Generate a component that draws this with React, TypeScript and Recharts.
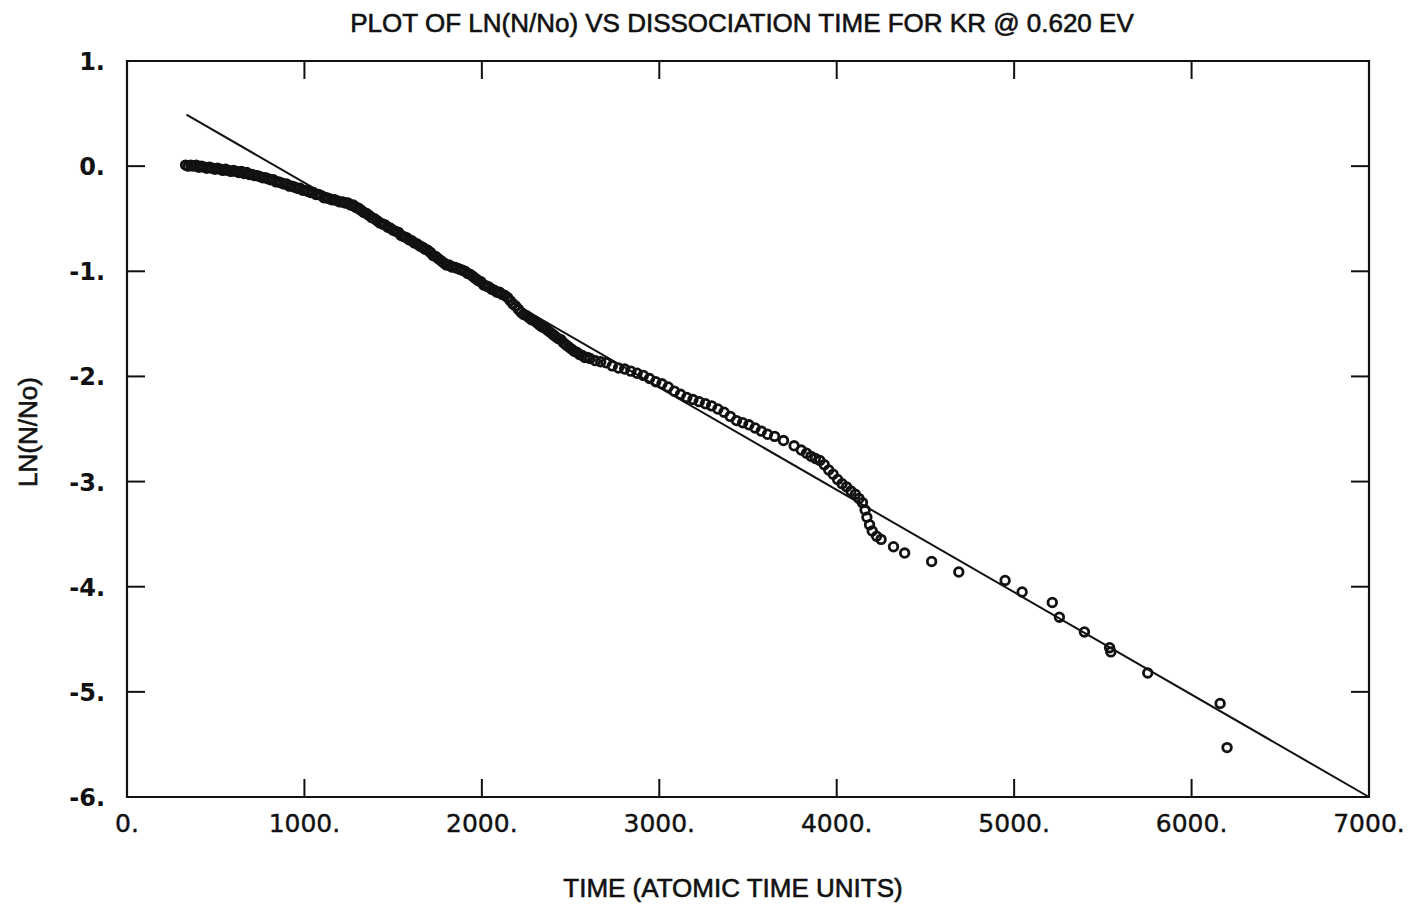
import React from 'react';
import { ScatterChart, Scatter, XAxis, YAxis, ReferenceLine, ReferenceArea } from 'recharts';

// Dissociation time (atomic time units) of each recorded event
const TIMES = [
  330, 345, 360, 375, 390, 405, 420, 435, 450, 465,
  480, 495, 510, 525, 540, 555, 570, 585, 600, 615,
  630, 645, 660, 675, 690, 705, 720, 735, 750, 765,
  780, 795, 810, 825, 840, 855, 870, 885, 900, 915,
  930, 945, 960, 975, 990, 1005, 1020, 1035, 1050, 1065,
  1080, 1095, 1110, 1125, 1140, 1155, 1170, 1185, 1200, 1215,
  1230, 1245, 1260, 1275, 1290, 1305, 1320, 1335, 1350, 1365,
  1380, 1395, 1410, 1425, 1440, 1455, 1470, 1485, 1500, 1515,
  1530, 1545, 1560, 1575, 1590, 1605, 1620, 1635, 1650, 1665,
  1680, 1695, 1710, 1725, 1740, 1755, 1770, 1785, 1800, 1815,
  1830, 1845, 1860, 1875, 1890, 1905, 1920, 1935, 1950, 1965,
  1980, 1995, 2010, 2025, 2040, 2055, 2070, 2085, 2100, 2115,
  2130, 2145, 2160, 2175, 2190, 2205, 2220, 2235, 2250, 2265,
  2280, 2295, 2310, 2325, 2340, 2355, 2370, 2385, 2400, 2415,
  2430, 2445, 2460, 2475, 2490, 2505, 2520, 2535, 2550, 2565,
  2580, 2595, 2610, 2640, 2670, 2700, 2735, 2770, 2805, 2840,
  2875, 2910, 2945, 2980, 3015, 3050, 3085, 3120, 3155, 3190,
  3225, 3260, 3295, 3330, 3365, 3400, 3435, 3470, 3505, 3540,
  3575, 3610, 3650, 3700, 3760, 3800, 3830, 3855, 3880, 3905,
  3930, 3955, 3980, 4005, 4030, 4055, 4080, 4105, 4125, 4145,
  4160, 4170, 4185, 4200, 4225, 4250, 4320, 4383, 4535, 4688,
  4949, 5045, 5215, 5255, 5396, 5538, 5545, 5753, 6161, 6200,
];

// ln(N/No) for each event above
const LN_RATIO = [
  0.01, 0.0, 0.01, 0.0, 0.01, -0.01, 0.0, -0.01, -0.02, -0.01,
  -0.02, -0.03, -0.02, -0.03, -0.04, -0.03, -0.04, -0.05, -0.04, -0.05,
  -0.06, -0.05, -0.07, -0.06, -0.08, -0.08, -0.09, -0.09, -0.1, -0.11,
  -0.11, -0.12, -0.13, -0.13, -0.15, -0.15, -0.16, -0.17, -0.17, -0.19,
  -0.19, -0.2, -0.21, -0.21, -0.23, -0.23, -0.24, -0.25, -0.25, -0.27,
  -0.27, -0.28, -0.3, -0.3, -0.31, -0.32, -0.32, -0.33, -0.34, -0.34,
  -0.35, -0.35, -0.37, -0.37, -0.39, -0.4, -0.42, -0.44, -0.45, -0.47,
  -0.49, -0.5, -0.52, -0.54, -0.55, -0.56, -0.58, -0.59, -0.61, -0.62,
  -0.63, -0.66, -0.67, -0.68, -0.7, -0.71, -0.73, -0.74, -0.76, -0.77,
  -0.79, -0.8, -0.82, -0.85, -0.86, -0.88, -0.9, -0.92, -0.94, -0.94,
  -0.96, -0.96, -0.97, -0.98, -0.99, -1.0, -1.02, -1.03, -1.05, -1.07,
  -1.09, -1.1, -1.13, -1.14, -1.15, -1.17, -1.18, -1.2, -1.2, -1.22,
  -1.23, -1.25, -1.28, -1.31, -1.33, -1.36, -1.39, -1.41, -1.42, -1.44,
  -1.46, -1.47, -1.49, -1.51, -1.53, -1.54, -1.56, -1.58, -1.6, -1.62,
  -1.64, -1.65, -1.68, -1.7, -1.72, -1.74, -1.76, -1.77, -1.79, -1.8,
  -1.82, -1.82, -1.83, -1.85, -1.86, -1.87, -1.9, -1.92, -1.93, -1.95,
  -1.97, -1.99, -2.02, -2.05, -2.07, -2.1, -2.14, -2.17, -2.2, -2.22,
  -2.24, -2.26, -2.28, -2.31, -2.34, -2.38, -2.42, -2.44, -2.46, -2.49,
  -2.52, -2.55, -2.57, -2.61, -2.66, -2.7, -2.73, -2.76, -2.78, -2.8,
  -2.84, -2.89, -2.93, -2.98, -3.02, -3.05, -3.09, -3.12, -3.16, -3.2,
  -3.27, -3.34, -3.41, -3.47, -3.52, -3.55, -3.62, -3.68, -3.76, -3.86,
  -3.94, -4.05, -4.15, -4.29, -4.43, -4.58, -4.62, -4.82, -5.11, -5.53,
];

// Least-squares fit line end points
const FIT_TIMES = [335, 7000];
const FIT_LN = [0.49, -6.0];

const X_TICKS = [0, 1000, 2000, 3000, 4000, 5000, 6000, 7000];
const Y_TICKS = [1, 0, -1, -2, -3, -4, -5, -6];

const points = TIMES.map((t, i) => ({ t, ln: LN_RATIO[i] }));

const CHART_W = 1409;
const CHART_H = 898;
const PLOT_LEFT = 119;
const PLOT_TOP = 53;
const PLOT_W = 1242;
const PLOT_H = 736;
const PLOT_RIGHT = PLOT_LEFT + PLOT_W;
const PLOT_BOTTOM = PLOT_TOP + PLOT_H;
const X_AXIS_H = 60;
const TICK_LEN = 18;
const INK = '#111';

const XTick = (props: any) => {
  const { x, payload } = props;
  return (
    <g>
      <line x1={x} x2={x} y1={PLOT_BOTTOM} y2={PLOT_BOTTOM - TICK_LEN} stroke={INK} strokeWidth={2} />
      <line x1={x} x2={x} y1={PLOT_TOP} y2={PLOT_TOP + TICK_LEN} stroke={INK} strokeWidth={2} />
      <text
        x={x}
        y={PLOT_BOTTOM + 35}
        textAnchor="middle"
        fontFamily="'DejaVu Sans', sans-serif"
        fontSize={25}
        fill={INK}
        stroke={INK}
        strokeWidth={0.4}
      >
        {`${payload.value}.`}
      </text>
    </g>
  );
};

const YTick = (props: any) => {
  const { y, payload } = props;
  return (
    <g>
      <line x1={PLOT_LEFT} x2={PLOT_LEFT + TICK_LEN} y1={y} y2={y} stroke={INK} strokeWidth={2} />
      <line x1={PLOT_RIGHT - TICK_LEN} x2={PLOT_RIGHT} y1={y} y2={y} stroke={INK} strokeWidth={2} />
      <text
        x={97}
        y={y + 9}
        textAnchor="end"
        fontFamily="'DejaVu Sans', sans-serif"
        fontWeight={700}
        fontSize={24}
        fill={INK}
      >
        {`${payload.value}.`}
      </text>
    </g>
  );
};

const OpenCircle = (props: any) => {
  const { cx, cy } = props;
  return <circle cx={cx} cy={cy} r={4.3} fill="none" stroke={INK} strokeWidth={2.8} />;
};

const textStyle: React.CSSProperties = {
  position: 'absolute',
  fontFamily: "'Liberation Sans', Arial, sans-serif",
  fontSize: 26,
  lineHeight: '30px',
  whiteSpace: 'nowrap',
  color: INK,
  WebkitTextStroke: '0.6px #111',
};

export default function App() {
  return (
    <div style={{ position: 'relative', width: CHART_W, height: CHART_H, background: '#fff' }}>
      <div style={{ ...textStyle, left: 734, top: 0, transform: 'translateX(-50%)' }}>
        PLOT OF LN(N/No) VS DISSOCIATION TIME FOR KR @ 0.620 EV
      </div>
      <div style={{ ...textStyle, left: 725, top: 865, transform: 'translateX(-50%)' }}>
        TIME (ATOMIC TIME UNITS)
      </div>
      <div style={{ ...textStyle, left: 20, top: 424, transform: 'translate(-50%, -50%) rotate(-90deg)' }}>
        LN(N/No)
      </div>
      <div style={{ position: 'absolute', left: 0, top: 0 }}>
        <ScatterChart
          width={CHART_W}
          height={CHART_H}
          margin={{ top: PLOT_TOP, right: CHART_W - PLOT_RIGHT, bottom: CHART_H - PLOT_BOTTOM - X_AXIS_H, left: 0 }}
        >
          <XAxis
            dataKey="t"
            type="number"
            domain={[0, 7000]}
            ticks={X_TICKS}
            interval={0}
            height={X_AXIS_H}
            axisLine={false}
            tickLine={false}
            tick={XTick}
            allowDataOverflow
          />
          <YAxis
            dataKey="ln"
            type="number"
            domain={[-6, 1]}
            ticks={Y_TICKS}
            interval={0}
            width={PLOT_LEFT}
            axisLine={false}
            tickLine={false}
            tick={YTick}
            allowDataOverflow
          />
          <ReferenceArea x1={0} x2={7000} y1={-6} y2={1} fill="none" stroke={INK} strokeWidth={2.2} />
          <ReferenceLine
            segment={[
              { x: FIT_TIMES[0], y: FIT_LN[0] },
              { x: FIT_TIMES[1], y: FIT_LN[1] },
            ]}
            stroke={INK}
            strokeWidth={2}
          />
          <Scatter data={points} shape={OpenCircle} isAnimationActive={false} />
        </ScatterChart>
      </div>
    </div>
  );
}
